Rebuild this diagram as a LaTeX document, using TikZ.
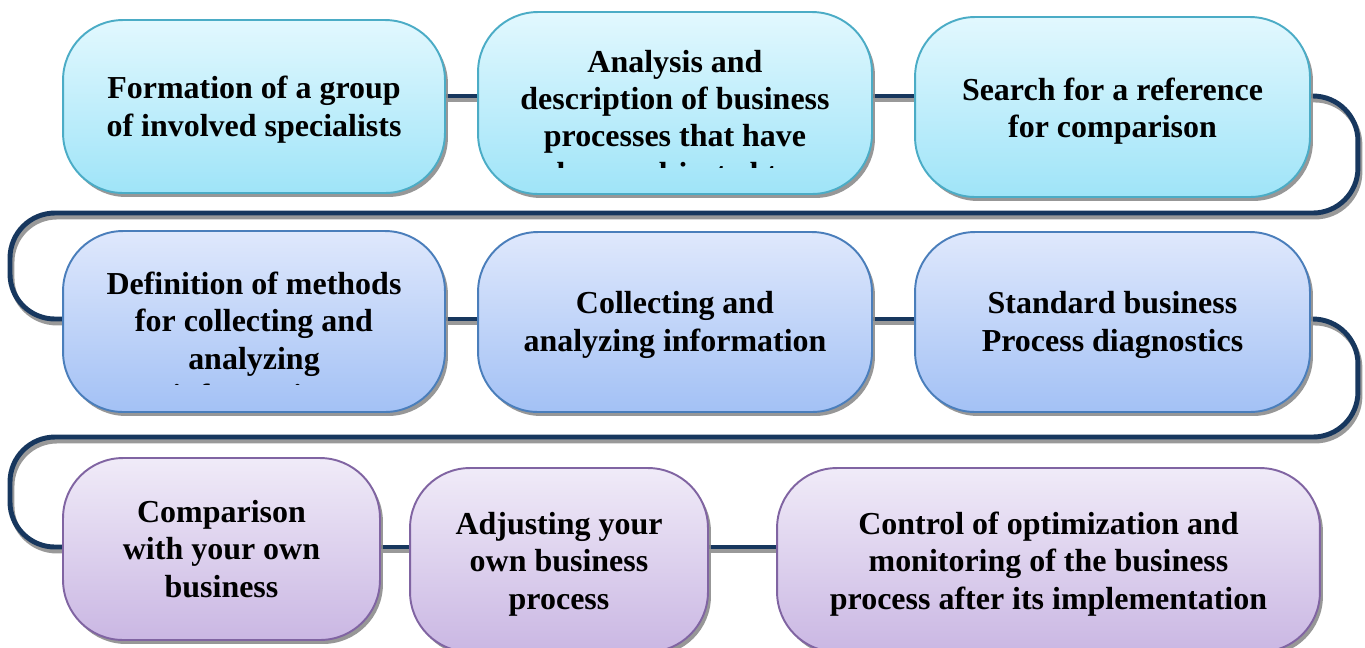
\documentclass[tikz,border=0pt]{standalone}
\usepackage{fontspec}
\setmainfont{Liberation Serif}
\usetikzlibrary{shadows,backgrounds}

\definecolor{linea}{HTML}{17375E}
\definecolor{cyantop}{HTML}{E2F8FE}
\definecolor{cyanbot}{HTML}{9FE4F8}
\definecolor{cyanbor}{HTML}{4BACC6}
\definecolor{bluetop}{HTML}{DFE8FC}
\definecolor{bluebot}{HTML}{A3C1F5}
\definecolor{bluebor}{HTML}{4A7EBB}
\definecolor{viotop}{HTML}{F0EBF8}
\definecolor{viobot}{HTML}{CAB7E3}
\definecolor{viobor}{HTML}{8064A2}

\begin{document}
\begin{tikzpicture}[x=0.02cm, y=0.02cm,
		box/.style={line width=1.1pt, rounded corners=1.2cm, inner sep=0pt, shading=axis,
			drop shadow={shadow xshift=0.06cm, shadow yshift=-0.08cm, fill=black!45, opacity=0.9}},
		boxa/.style={box, draw=cyanbor, top color=cyantop, bottom color=cyanbot},
		boxb/.style={box, draw=bluebor, top color=bluetop, bottom color=bluebot},
		boxc/.style={box, draw=viobor, top color=viotop, bottom color=viobot},
		txt/.style={align=center, inner sep=0pt, font=\bfseries\fontsize{18.2}{21.3}\selectfont},
		flow/.style={draw=linea, line width=2.8pt,
			preaction={draw=black!40, line width=2.8pt, transform canvas={xshift=0.04cm, yshift=-0.08cm}}}]
		\useasboundingbox (0,0) rectangle (1365,-647);

		% righe del percorso
		\coordinate (l1) at (0,-96);
		\coordinate (l2) at (0,-319);
		\coordinate (l3) at (0,-547);
		\coordinate (k1) at (10,-213);
		\coordinate (k2) at (10,-437);

		% prima riga
		\node[boxa, minimum width=7.64cm, minimum height=3.46cm] (b1) at (254,-106.5) {};
		\node[txt] (t1) at (254,-109.5) {Formation of a group\\of involved specialists};
		\node[boxa, minimum width=7.88cm, minimum height=3.64cm] (b2) at (675,-103) {};
		\begin{scope}
			\clip (b2.west |- 0,-10) rectangle (b2.east |- 0,-167);
			\node[txt] (t2) at (675,-120.5) {Analysis and\\description of business\\processes that have\\been subjected to};
		\end{scope}
		\node[boxa, minimum width=7.9cm, minimum height=3.6cm] (b3) at (1112.5,-107) {};
		\node[txt] (t3) at (1112.5,-111) {Search for a reference\\for comparison};

		% seconda riga
		\node[boxb, minimum width=7.64cm, minimum height=3.62cm] (b4) at (254,-321.5) {};
		\begin{scope}
			\clip (b4.west |- 0,-225) rectangle (b4.east |- 0,-384);
			\node[txt] (t4) at (254,-339.5) {Definition of methods\\for collecting and\\analyzing\\information};
		\end{scope}
		\node[boxb, minimum width=7.88cm, minimum height=3.6cm] (b5) at (675,-322) {};
		\node[txt] (t5) at (675,-325) {Collecting and\\analyzing information};
		\node[boxb, minimum width=7.9cm, minimum height=3.6cm] (b6) at (1112.5,-322) {};
		\node[txt] (t6) at (1112.5,-325) {Standard business\\Process diagnostics};

		% terza riga
		\node[boxc, minimum width=6.34cm, minimum height=3.64cm] (b7) at (221.5,-549) {};
		\node[txt] (t7) at (221.5,-549) {Comparison\\with your own\\business};
		\node[boxc, minimum width=5.96cm, minimum height=3.68cm] (b8) at (559,-560) {};
		\node[txt] (t8) at (559,-564) {Adjusting your\\own business\\process};
		\node[boxc, minimum width=10.86cm, minimum height=3.68cm] (b9) at (1048.5,-560) {};
		\node[txt] (t9) at (1048.5,-564) {Control of optimization and\\monitoring of the business\\process after its implementation};

		\begin{scope}[on background layer]
			\draw[flow] (b1.east |- l1) -- (b2.west |- l1);
			\draw[flow] (b2.east |- l1) -- (b3.west |- l1);
			\draw[flow, rounded corners=0.9cm] (b3.east |- l1) -- ++(47,0) |- (k1) |- (b4.west |- l2);

			\draw[flow] (b4.east |- l2) -- (b5.west |- l2);
			\draw[flow] (b5.east |- l2) -- (b6.west |- l2);
			\draw[flow, rounded corners=0.9cm] (b6.east |- l2) -- ++(47,0) |- (k2) |- (b7.west |- l3);

			\draw[flow] (b7.east |- l3) -- (b8.west |- l3);
			\draw[flow] (b8.east |- l3) -- (b9.west |- l3);
		\end{scope}
	\end{tikzpicture}
\end{document}
